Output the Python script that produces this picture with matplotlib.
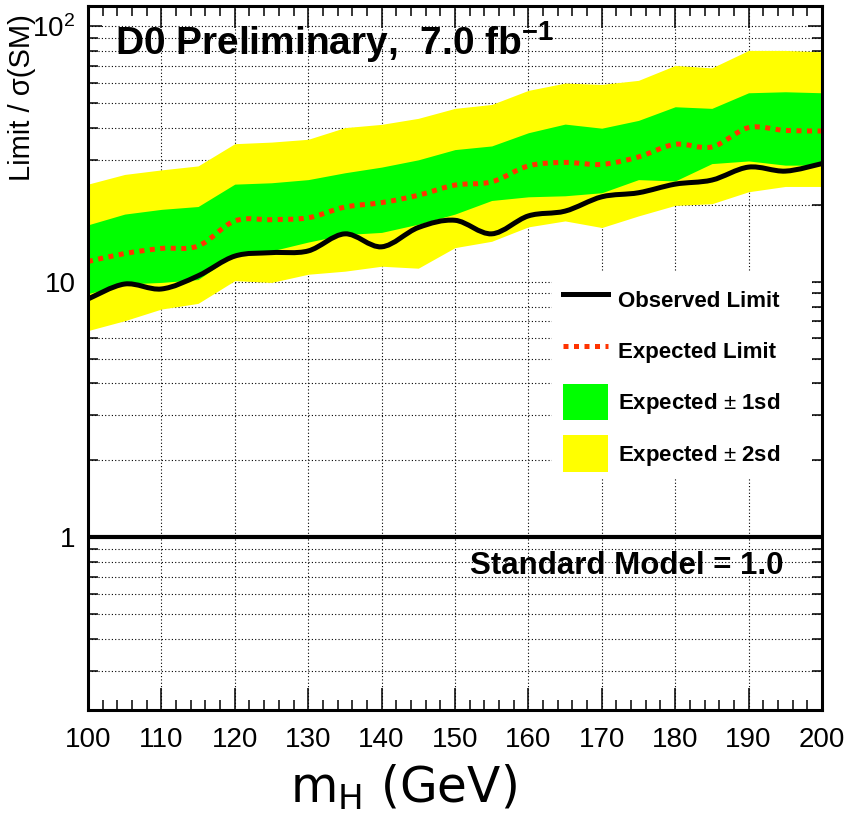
import numpy as np
import matplotlib
matplotlib.use('Agg')
import matplotlib.pyplot as plt
from matplotlib.path import Path
from matplotlib.patches import PathPatch, Patch, Rectangle
from matplotlib.lines import Line2D
from matplotlib.ticker import FixedLocator, NullFormatter, MultipleLocator

plt.rcParams['font.family'] = ['Liberation Sans', 'DejaVu Sans']
plt.rcParams['mathtext.fontset'] = 'custom'
plt.rcParams['mathtext.rm'] = 'Liberation Sans'
plt.rcParams['mathtext.it'] = 'Liberation Sans:italic'
plt.rcParams['mathtext.bf'] = 'Liberation Sans:bold'

# limits, 5 GeV steps
mass = [100, 105, 110, 115, 120, 125, 130, 135, 140, 145, 150,
        155, 160, 165, 170, 175, 180, 185, 190, 195, 200]
observed = [8.56, 9.80, 9.37, 10.55, 12.6, 13.0, 13.2, 15.4, 13.7, 16.3, 17.4,
            15.4, 18.1, 18.9, 21.5, 22.3, 24.1, 25.0, 28.1, 27.1, 29.0]
expected = [12.0, 12.9, 13.5, 13.8, 17.3, 17.5, 17.8, 19.6, 20.4, 21.8, 23.9,
            24.6, 28.4, 29.3, 28.8, 30.8, 34.5, 33.7, 40.1, 39.1, 38.9]
minus2 = [6.44, 7.04, 7.82, 8.23, 10.1, 9.94, 10.7, 11.0, 11.5, 11.3, 13.6,
          14.4, 16.4, 17.3, 16.3, 18.1, 19.9, 20.2, 22.5, 23.6, 23.6]
minus1 = [8.98, 9.8, 9.94, 10.2, 12.8, 13.2, 14.3, 15.3, 15.6, 16.8, 18.4,
          20.8, 21.5, 21.7, 22.3, 25.1, 24.8, 29.0, 29.7, 28.6, 28.6]
plus1 = [16.7, 18.4, 19.2, 19.7, 24.1, 24.4, 25.1, 26.7, 28.1, 30.0, 32.9,
         34.0, 38.3, 41.4, 39.9, 42.8, 48.4, 47.7, 54.9, 55.4, 54.9]
plus2 = [24.1, 26.3, 27.4, 28.4, 34.7, 35.2, 36.1, 40.1, 41.3, 43.6, 47.7,
         49.4, 56.1, 59.9, 59.2, 61.4, 70.2, 68.7, 80.4, 80.4, 79.4]

legend_labels = ['Observed Limit', 'Expected Limit',
                 'Expected $\\pm$ 1sd', 'Expected $\\pm$ 2sd']

YELLOW = '#ffff00'
GREEN = '#00ff00'
RED = '#ff3300'


def smooth_path(x, y):
    # ROOT "C" style curve: catmull-rom segments as bezier, in log space
    x = np.asarray(x, float)
    ly = np.log10(np.asarray(y, float))
    px = np.r_[x[0], x, x[-1]]
    py = np.r_[ly[0], ly, ly[-1]]
    verts = [(x[0], 10 ** ly[0])]
    codes = [Path.MOVETO]
    for k in range(1, len(x)):
        c1x = px[k] + (px[k + 1] - px[k - 1]) / 6
        c1y = py[k] + (py[k + 1] - py[k - 1]) / 6
        c2x = px[k + 1] - (px[k + 2] - px[k]) / 6
        c2y = py[k + 1] - (py[k + 2] - py[k]) / 6
        verts += [(c1x, 10 ** c1y), (c2x, 10 ** c2y), (px[k + 1], 10 ** py[k + 1])]
        codes += [Path.CURVE4] * 3
    return Path(verts, codes)


fig = plt.figure(figsize=(8.46, 8.19), dpi=100)
ax = fig.add_axes([0.104, 0.1331, 0.8676, 0.8596])
ax.set_yscale('log')
ax.set_xlim(100, 200)
ax.set_ylim(0.211, 120)
ax.set_axisbelow(True)

ax.fill_between(mass, minus2, plus2, color=YELLOW, lw=0, zorder=1)
ax.fill_between(mass, minus1, plus1, color=GREEN, lw=0, zorder=1.1)

ax.add_patch(PathPatch(smooth_path(mass, expected), fill=False, edgecolor=RED,
                       lw=3.6, linestyle=(0, (1, 1.1)), capstyle='butt', zorder=3))
ax.add_patch(PathPatch(smooth_path(mass, observed), fill=False, edgecolor='black',
                       lw=3.6, capstyle='round', joinstyle='round', zorder=4))

ax.axhline(1.0, color='black', lw=3.0, zorder=4)

# grid: dotted, x every 10 GeV, y on every log tick
ax.xaxis.set_major_locator(MultipleLocator(10))
ax.xaxis.set_minor_locator(MultipleLocator(2))
ax.yaxis.set_major_locator(FixedLocator([1, 10, 100]))
ax.yaxis.set_minor_locator(FixedLocator(
    [m * 10.0 ** e for e in (-1, 0, 1) for m in range(2, 10)]))
ax.yaxis.set_minor_formatter(NullFormatter())
ax.set_yticklabels(['1', '10', '10$^2$'])
ax.grid(which='major', axis='x', color='black', lw=0.8, linestyle=(0, (1, 2)))
ax.grid(which='both', axis='y', color='black', lw=0.8, linestyle=(0, (1, 2)))

ax.tick_params(which='both', direction='in', top=True, right=True, width=1.1,
               labelsize=20)
ax.tick_params(axis='x', which='both', pad=12)
ax.tick_params(axis='y', which='both', pad=9)
ax.tick_params(axis='x', which='major', length=16)
ax.tick_params(axis='x', which='minor', length=7)
ax.tick_params(axis='y', which='major', length=10)
ax.tick_params(axis='y', which='minor', length=7.5)
for s in ax.spines.values():
    s.set_linewidth(2.2)
    s.set_zorder(6)

# white box behind legend hides grid
ax.add_patch(Rectangle((0.632, 0.3295), 0.354, 0.2925, transform=ax.transAxes,
                       facecolor='white', edgecolor='none', zorder=2))

handles = [Line2D([], [], color='black', lw=3.6),
           Line2D([], [], color=RED, lw=3.6, linestyle=(0, (1, 1.1)),
                  dash_capstyle='butt'),
           Patch(facecolor=GREEN, edgecolor='none'),
           Patch(facecolor=YELLOW, edgecolor='none')]
leg = ax.legend(handles, legend_labels, loc='upper left',
                bbox_to_anchor=(0.647, 0.608), frameon=False,
                prop={'size': 16, 'weight': 'bold'}, borderpad=0,
                borderaxespad=0, handlelength=2.05, handleheight=2.12,
                handletextpad=0.45, labelspacing=0.68)
leg.set_zorder(7)

ax.text(0.037, 0.949, 'D0 Preliminary,  7.0 fb$^{\\mathbf{-1}}$',
        transform=ax.transAxes, fontsize=28, fontweight='bold', va='center',
        zorder=8)
ax.text(0.947, 0.2045, 'Standard Model = 1.0', transform=ax.transAxes,
        fontsize=22.5, fontweight='bold', ha='right', va='center', zorder=8)

fig.text(22 / 846, 1 - 14 / 819, 'Limit / \u03c3(SM)', rotation=90,
         fontsize=21, ha='center', va='top')
fig.text(290 / 846, 17 / 819, 'm$_{\\mathregular{H}}$ (GeV)',
         fontsize=35, family='DejaVu Sans', ha='left', va='baseline')

fig.savefig('out.png', dpi=100)
